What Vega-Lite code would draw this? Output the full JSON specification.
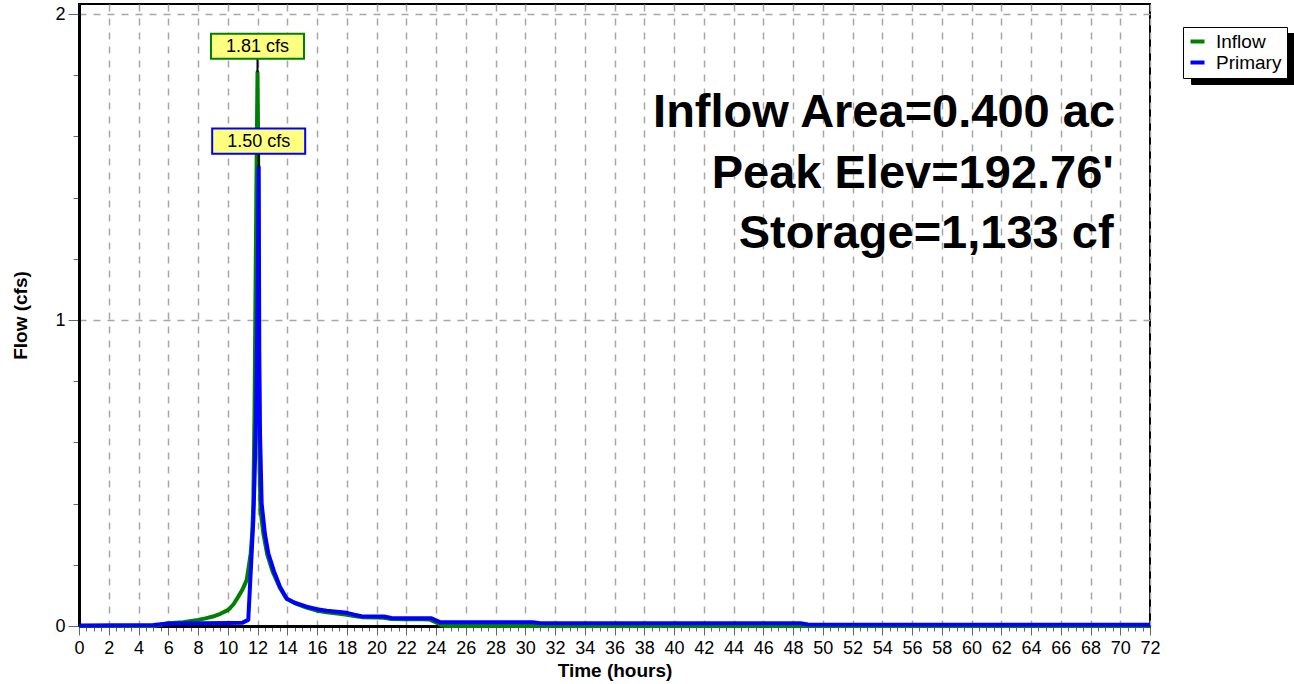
{
  "$schema": "https://vega.github.io/schema/vega-lite/v6.json",
  "width": 1071,
  "height": 622,
  "autosize": "none",
  "padding": {"left": 79, "top": 4, "right": 144, "bottom": 58},
  "background": "white",
  "config": {
    "font": "Liberation Sans",
    "view": {"stroke": "black", "strokeWidth": 2},
    "axis": {
      "labelFont": "Liberation Sans",
      "titleFont": "Liberation Sans",
      "labelColor": "black",
      "titleColor": "black"
    }
  },
  "resolve": {"scale": {"stroke": "independent"}},
  "datasets": {
    "flow": [
      {"t": 0, "q": 0, "s": "Inflow"},
      {"t": 5, "q": 0, "s": "Inflow"},
      {"t": 5.5, "q": 0.004, "s": "Inflow"},
      {"t": 6, "q": 0.009, "s": "Inflow"},
      {"t": 7, "q": 0.012, "s": "Inflow"},
      {"t": 8, "q": 0.02, "s": "Inflow"},
      {"t": 8.5, "q": 0.025, "s": "Inflow"},
      {"t": 9, "q": 0.031, "s": "Inflow"},
      {"t": 9.5, "q": 0.04, "s": "Inflow"},
      {"t": 10, "q": 0.052, "s": "Inflow"},
      {"t": 10.15, "q": 0.058, "s": "Inflow"},
      {"t": 10.4, "q": 0.072, "s": "Inflow"},
      {"t": 10.71, "q": 0.096, "s": "Inflow"},
      {"t": 11, "q": 0.12, "s": "Inflow"},
      {"t": 11.27, "q": 0.15, "s": "Inflow"},
      {"t": 11.4, "q": 0.19, "s": "Inflow"},
      {"t": 11.54, "q": 0.237, "s": "Inflow"},
      {"t": 11.64, "q": 0.3, "s": "Inflow"},
      {"t": 11.72, "q": 0.4, "s": "Inflow"},
      {"t": 11.8, "q": 0.7, "s": "Inflow"},
      {"t": 11.85, "q": 1.0, "s": "Inflow"},
      {"t": 11.92, "q": 1.4, "s": "Inflow"},
      {"t": 12.0, "q": 1.81, "s": "Inflow"},
      {"t": 12.04, "q": 1.6, "s": "Inflow"},
      {"t": 12.08, "q": 1.0, "s": "Inflow"},
      {"t": 12.13, "q": 0.55, "s": "Inflow"},
      {"t": 12.2, "q": 0.38, "s": "Inflow"},
      {"t": 12.4, "q": 0.3, "s": "Inflow"},
      {"t": 12.65, "q": 0.235, "s": "Inflow"},
      {"t": 13, "q": 0.18, "s": "Inflow"},
      {"t": 13.5, "q": 0.125, "s": "Inflow"},
      {"t": 13.96, "q": 0.088, "s": "Inflow"},
      {"t": 14.5, "q": 0.075, "s": "Inflow"},
      {"t": 15.3, "q": 0.06, "s": "Inflow"},
      {"t": 16, "q": 0.05, "s": "Inflow"},
      {"t": 16.65, "q": 0.045, "s": "Inflow"},
      {"t": 17.5, "q": 0.04, "s": "Inflow"},
      {"t": 18, "q": 0.037, "s": "Inflow"},
      {"t": 18.5, "q": 0.033, "s": "Inflow"},
      {"t": 19, "q": 0.029, "s": "Inflow"},
      {"t": 20, "q": 0.028, "s": "Inflow"},
      {"t": 20.5, "q": 0.027, "s": "Inflow"},
      {"t": 21, "q": 0.023, "s": "Inflow"},
      {"t": 22, "q": 0.022, "s": "Inflow"},
      {"t": 23, "q": 0.022, "s": "Inflow"},
      {"t": 23.6, "q": 0.021, "s": "Inflow"},
      {"t": 24, "q": 0.012, "s": "Inflow"},
      {"t": 24.4, "q": 0.002, "s": "Inflow"},
      {"t": 24.6, "q": 0, "s": "Inflow"},
      {"t": 72, "q": 0, "s": "Inflow"},
      {"t": 0, "q": 0.002, "s": "Primary"},
      {"t": 5, "q": 0.003, "s": "Primary"},
      {"t": 5.5, "q": 0.006, "s": "Primary"},
      {"t": 6, "q": 0.008, "s": "Primary"},
      {"t": 8, "q": 0.009, "s": "Primary"},
      {"t": 10, "q": 0.01, "s": "Primary"},
      {"t": 11, "q": 0.011, "s": "Primary"},
      {"t": 11.38, "q": 0.02, "s": "Primary"},
      {"t": 11.72, "q": 0.346, "s": "Primary"},
      {"t": 11.8, "q": 0.48, "s": "Primary"},
      {"t": 11.9, "q": 0.68, "s": "Primary"},
      {"t": 12.0, "q": 1.05, "s": "Primary"},
      {"t": 12.08, "q": 1.5, "s": "Primary"},
      {"t": 12.12, "q": 0.9, "s": "Primary"},
      {"t": 12.17, "q": 0.63, "s": "Primary"},
      {"t": 12.28, "q": 0.4, "s": "Primary"},
      {"t": 12.5, "q": 0.3, "s": "Primary"},
      {"t": 12.73, "q": 0.237, "s": "Primary"},
      {"t": 13.1, "q": 0.18, "s": "Primary"},
      {"t": 13.51, "q": 0.128, "s": "Primary"},
      {"t": 13.96, "q": 0.09, "s": "Primary"},
      {"t": 14.5, "q": 0.076, "s": "Primary"},
      {"t": 15.3, "q": 0.063, "s": "Primary"},
      {"t": 16, "q": 0.055, "s": "Primary"},
      {"t": 16.65, "q": 0.05, "s": "Primary"},
      {"t": 17.5, "q": 0.046, "s": "Primary"},
      {"t": 18, "q": 0.043, "s": "Primary"},
      {"t": 18.5, "q": 0.037, "s": "Primary"},
      {"t": 19, "q": 0.032, "s": "Primary"},
      {"t": 20, "q": 0.031, "s": "Primary"},
      {"t": 20.5, "q": 0.031, "s": "Primary"},
      {"t": 21, "q": 0.026, "s": "Primary"},
      {"t": 22, "q": 0.025, "s": "Primary"},
      {"t": 23, "q": 0.025, "s": "Primary"},
      {"t": 23.7, "q": 0.025, "s": "Primary"},
      {"t": 24.3, "q": 0.012, "s": "Primary"},
      {"t": 30.5, "q": 0.012, "s": "Primary"},
      {"t": 31, "q": 0.009, "s": "Primary"},
      {"t": 48.5, "q": 0.009, "s": "Primary"},
      {"t": 49, "q": 0.005, "s": "Primary"},
      {"t": 72, "q": 0.004, "s": "Primary"}
    ],
    "peaks": [
      {"t": 12.0, "q": 1.81, "s": "Inflow", "label": "1.81 cfs"},
      {"t": 12.08, "q": 1.5, "s": "Primary", "label": "1.50 cfs"}
    ],
    "notes": [
      {"t": 69.65, "q": 1.632, "label": "Inflow Area=0.400 ac"},
      {"t": 69.55, "q": 1.43, "label": "Peak Elev=192.76'"},
      {"t": 69.55, "q": 1.234, "label": "Storage=1,133 cf"}
    ]
  },
  "encoding": {
    "x": {
      "field": "t",
      "type": "quantitative",
      "scale": {"domain": [0, 72], "nice": false, "zero": false},
      "axis": {
        "title": "Time  (hours)",
        "titleFontSize": 19,
        "titleFontWeight": "bold",
        "titlePadding": 4,
        "values": [0,0.5,1,1.5,2,2.5,3,3.5,4,4.5,5,5.5,6,6.5,7,7.5,8,8.5,9,9.5,10,10.5,11,11.5,12,12.5,13,13.5,14,14.5,15,15.5,16,16.5,17,17.5,18,18.5,19,19.5,20,20.5,21,21.5,22,22.5,23,23.5,24,24.5,25,25.5,26,26.5,27,27.5,28,28.5,29,29.5,30,30.5,31,31.5,32,32.5,33,33.5,34,34.5,35,35.5,36,36.5,37,37.5,38,38.5,39,39.5,40,40.5,41,41.5,42,42.5,43,43.5,44,44.5,45,45.5,46,46.5,47,47.5,48,48.5,49,49.5,50,50.5,51,51.5,52,52.5,53,53.5,54,54.5,55,55.5,56,56.5,57,57.5,58,58.5,59,59.5,60,60.5,61,61.5,62,62.5,63,63.5,64,64.5,65,65.5,66,66.5,67,67.5,68,68.5,69,69.5,70,70.5,71,71.5,72],
        "labelExpr": "datum.value % 2 === 0 ? format(datum.value, 'd') : ''",
        "labelOverlap": false,
        "labelFlush": false,
        "labelFontSize": 18,
        "labelPadding": 4,
        "tickSize": {"condition": {"test": "datum.value % 2 === 0", "value": 9}, "value": 5},
        "tickColor": "#666666",
        "tickWidth": 1,
        "domainColor": "black",
        "domainWidth": 3,
        "grid": true,
        "gridColor": "#a6a6a6",
        "gridWidth": 1.5,
        "gridDash": [7, 7],
        "gridOpacity": {"condition": {"test": "datum.value % 2 === 0", "value": 1}, "value": 0}
      }
    },
    "y": {
      "field": "q",
      "type": "quantitative",
      "scale": {"domain": [0, 2.033], "nice": false},
      "axis": {
        "title": "Flow  (cfs)",
        "titleFontSize": 19,
        "titleFontWeight": "bold",
        "titlePadding": 24,
        "values": [0,0.2,0.4,0.6,0.8,1,1.2,1.4,1.6,1.8,2],
        "labelExpr": "datum.value % 1 === 0 ? format(datum.value, 'd') : ''",
        "labelOverlap": false,
        "labelFontSize": 18,
        "labelPadding": 3,
        "tickSize": {"condition": {"test": "datum.value % 1 === 0", "value": 11}, "value": 6},
        "tickColor": "#666666",
        "tickWidth": 1,
        "domainColor": "black",
        "domainWidth": 3,
        "grid": true,
        "gridColor": "#a6a6a6",
        "gridWidth": 1.5,
        "gridDash": [7, 7],
        "gridOpacity": {"condition": {"test": "datum.value % 1 === 0", "value": 1}, "value": 0}
      }
    }
  },
  "layer": [
    {
      "data": {"name": "flow"},
      "mark": {"type": "line", "strokeWidth": 4, "strokeJoin": "round"},
      "encoding": {
        "stroke": {
          "field": "s",
          "type": "nominal",
          "scale": {"domain": ["Inflow", "Primary"], "range": ["#008000", "#0000ff"]},
          "legend": {
            "title": null,
            "orient": "none",
            "legendX": 1104,
            "legendY": 23,
            "zindex": 2,
            "padding": 5,
            "strokeColor": "black",
            "fillColor": "white",
            "symbolType": "stroke",
            "symbolSize": 196,
            "symbolStrokeWidth": 4,
            "labelFontSize": 19,
            "labelFont": "Liberation Sans",
            "labelColor": "black",
            "rowPadding": 1,
            "labelOffset": 9
          }
        }
      }
    },
    {
      "data": {"name": "peaks"},
      "mark": {"type": "rule", "color": "black", "strokeWidth": 2, "y2Offset": -14},
      "encoding": {
        "y2": {"field": "q"}
      }
    },
    {
      "data": {"name": "peaks"},
      "mark": {"type": "point", "shape": "M-1,-0.27H1V0.27H-1Z", "size": 8649, "filled": true, "fill": "#ffff80", "strokeWidth": 2, "opacity": 1, "yOffset": -26},
      "encoding": {
        "stroke": {
          "field": "s",
          "type": "nominal",
          "scale": {"domain": ["Inflow", "Primary"], "range": ["#008000", "#0000ff"]},
          "legend": null
        }
      }
    },
    {
      "data": {"name": "peaks"},
      "mark": {"type": "text", "fontSize": 18, "font": "Liberation Sans", "baseline": "middle", "align": "center", "yOffset": -25},
      "encoding": {
        "text": {"field": "label"},
        "color": {
          "field": "s",
          "type": "nominal",
          "scale": {"domain": ["Inflow", "Primary"], "range": ["black", "black"]},
          "legend": {
            "title": null,
            "orient": "none",
            "legendX": 1112,
            "legendY": 29,
            "zindex": 1,
            "padding": 5,
            "strokeColor": "black",
            "fillColor": "black",
            "symbolType": "square",
            "symbolSize": 196,
            "symbolStrokeWidth": 0,
            "symbolFillColor": "black",
            "labelExpr": "''",
            "labelFontSize": 19,
            "labelColor": "black",
            "rowPadding": 1,
            "labelOffset": 78
          }
        }
      }
    },
    {
      "data": {"name": "notes"},
      "mark": {"type": "text", "fontSize": 47, "fontWeight": "bold", "font": "Liberation Sans", "color": "black", "baseline": "alphabetic", "align": "right"},
      "encoding": {
        "text": {"field": "label"}
      }
    }
  ]
}
